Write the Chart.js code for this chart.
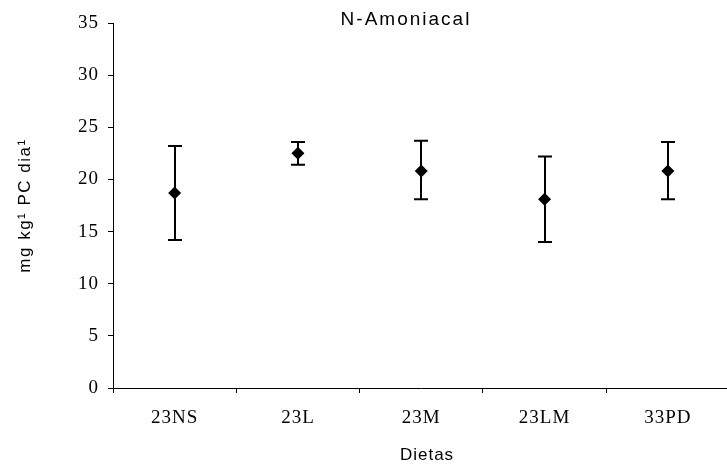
<!DOCTYPE html>
<html>
<head>
<meta charset="utf-8">
<script src="https://cdn.jsdelivr.net/npm/chart.js@4"></script>
<style>
  html, body { margin: 0; padding: 0; background: #fff; overflow: hidden; }
  #wrap { width: 736px; height: 465px; }
</style>
</head>
<body>
<div id="wrap"><canvas id="chart" width="736" height="465"></canvas></div>
<script>
// ---------- data ----------
const dietas = ['23NS', '23L', '23M', '23LM', '33PD'];
const media = [18.7, 22.5, 20.8, 18.1, 20.8];
const limiteSup = [23.2, 23.6, 23.7, 22.2, 23.6];
const limiteInf = [14.2, 21.4, 18.1, 14.0, 18.1];
const yMin = 0, yMax = 35, yStep = 5;

const titulo = 'N-Amoniacal';
const tituloY = 'mg kg\u00B9 PC dia\u00B9';
const tituloX = 'Dietas';

const SANS = '"Liberation Sans", Arial, sans-serif';

// ---------- plugins ----------
// slightly wide text for the tick labels
const spacing = {
  id: 'spacing',
  beforeDraw(chart) { chart.ctx.letterSpacing = '1px'; },
  afterDraw(chart) { chart.ctx.letterSpacing = '0px'; }
};

// error bars drawn under the diamonds
const errorBars = {
  id: 'errorBars',
  beforeDatasetsDraw(chart) {
    const { ctx, scales: { x, y } } = chart;
    ctx.save();
    ctx.strokeStyle = '#000';
    ctx.lineWidth = 2;
    dietas.forEach((d, i) => {
      const px = Math.round(x.getPixelForValue(i));
      const top = y.getPixelForValue(limiteSup[i]);
      const bot = y.getPixelForValue(limiteInf[i]);
      ctx.beginPath();
      ctx.moveTo(px, top); ctx.lineTo(px, bot);
      ctx.moveTo(px - 7, top); ctx.lineTo(px + 7, top);
      ctx.moveTo(px - 7, bot); ctx.lineTo(px + 7, bot);
      ctx.stroke();
    });
    ctx.restore();
  }
};

// chart + axis titles, placed like the Excel ones
const titles = {
  id: 'titles',
  afterDraw(chart) {
    const { ctx, chartArea: a } = chart;
    ctx.save();
    ctx.fillStyle = '#000';
    ctx.textAlign = 'center';
    ctx.textBaseline = 'middle';

    ctx.font = '19px ' + SANS;
    ctx.letterSpacing = '2px';
    ctx.fillText(titulo, 406, 20);

    ctx.font = '17px ' + SANS;
    ctx.letterSpacing = '1px';
    ctx.fillText(tituloX, 427, 455);

    ctx.letterSpacing = '1.5px';
    ctx.translate(25, (a.top + a.bottom) / 2);
    ctx.rotate(-Math.PI / 2);
    ctx.fillText(tituloY, 0, 0);
    ctx.restore();
  }
};

const serif = { family: '"Liberation Serif", "Times New Roman", serif', size: 19 };

new Chart(document.getElementById('chart'), {
  type: 'line',
  data: {
    labels: dietas,
    datasets: [{
      data: media,
      showLine: false,
      pointStyle: 'rectRot',
      pointRadius: 6.5,
      pointHoverRadius: 6.5,
      backgroundColor: '#000',
      borderColor: '#000',
      borderWidth: 0
    }]
  },
  options: {
    responsive: false,
    animation: false,
    layout: { padding: { top: 23, right: 1, left: 0, bottom: 0 } },
    plugins: {
      legend: { display: false },
      tooltip: { enabled: false },
      title: { display: false }
    },
    scales: {
      x: {
        type: 'category',
        offset: true,
        afterFit(scale) { scale.height = 77; },
        grid: { offset: true, drawOnChartArea: false, drawTicks: true, tickLength: 5, color: '#000', lineWidth: 1 },
        border: { color: '#000', width: 1 },
        ticks: { color: '#000', font: serif, padding: 14, maxRotation: 0 }
      },
      y: {
        min: yMin,
        max: yMax,
        afterFit(scale) { scale.width = 113; },
        grid: { drawOnChartArea: false, drawTicks: true, tickLength: 5, color: '#000', lineWidth: 1 },
        border: { color: '#000', width: 1 },
        ticks: { stepSize: yStep, color: '#000', font: serif, padding: 9 }
      }
    }
  },
  plugins: [spacing, errorBars, titles]
});
</script>
</body>
</html>
